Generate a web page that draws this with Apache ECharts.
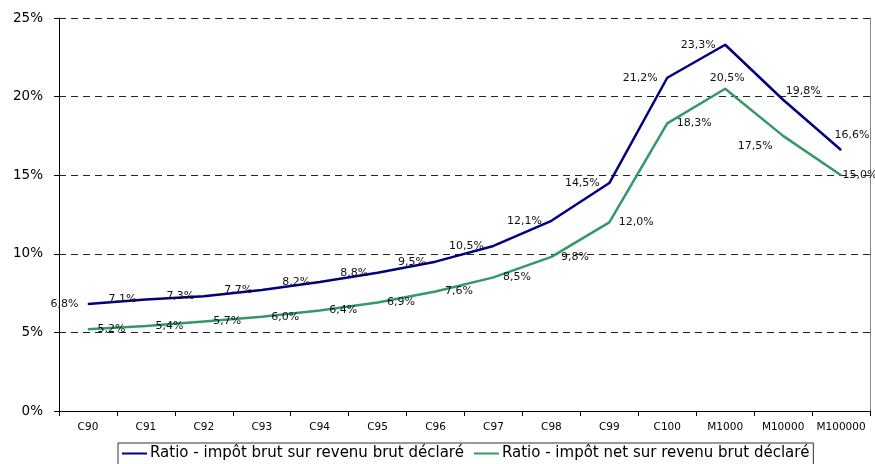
<!DOCTYPE html>
<html>
<head>
<meta charset="utf-8">
<script src="https://cdn.jsdelivr.net/npm/echarts@6/dist/echarts.min.js"></script>
<style>
html,body{margin:0;padding:0;background:#fff;}
#chart{width:875px;height:464px;}
</style>
</head>
<body>
<div id="chart"></div>
<script>
// ---- data ----
var categories = ['C90','C91','C92','C93','C94','C95','C96','C97','C98','C99','C100','M1000','M10000','M100000'];
var ratioBrut = [6.8, 7.1, 7.3, 7.7, 8.2, 8.8, 9.5, 10.5, 12.1, 14.5, 21.2, 23.3, 19.8, 16.6];
var ratioNet  = [5.2, 5.4, 5.7, 6.0, 6.4, 6.9, 7.6, 8.5, 9.8, 12.0, 18.3, 20.5, 17.5, 15.0];
var seriesNames = ['Ratio - impôt brut sur revenu brut déclaré', 'Ratio - impôt net sur revenu brut déclaré'];
var yTicks = [0, 5, 10, 15, 20, 25];

// ---- label placement (style only) ----
var brutLabelOverrides = {
  12: {position: 'top', distance: 3, offset: [20, 0]},
  13: {position: 'top', distance: 9, offset: [11, 0]}
};
var netLabelOverrides = {
  11: {position: 'top', distance: 5, offset: [2, 0]},
  12: {position: 'left', distance: 10, offset: [0, 10]},
  13: {position: 'right', distance: 1, offset: [0, 0]}
};

var FONT = 'DejaVu Sans';
function fmt(v){ return v.toFixed(1).replace('.', ',') + '%'; }

function buildData(values, overrides){
  return values.map(function(v, i){
    var item = {value: v};
    if (overrides[i]) item.label = overrides[i];
    return item;
  });
}

var chart = echarts.init(document.getElementById('chart'), null, {renderer: 'canvas'});
chart.setOption({
  animation: false,
  backgroundColor: '#ffffff',
  grid: {left: 59, right: 5, top: 18, bottom: 53},
  legend: {
    left: 118,
    top: 443,
    itemWidth: 25,
    itemHeight: 2,
    itemGap: 10,
    padding: [3, 4, 6, 4],
    borderColor: '#333',
    borderWidth: 1,
    icon: 'rect',
    textStyle: {fontFamily: FONT, fontSize: 15, color: '#000', padding: [0,0,0,-2]},
    data: seriesNames
  },
  xAxis: {
    type: 'category',
    data: categories,
    boundaryGap: true,
    axisLine: {lineStyle: {color: '#000', width: 1}},
    axisTick: {show: true, length: 5, lineStyle: {color: '#000'}},
    axisLabel: {fontFamily: FONT, fontSize: 10.5, color: '#000', margin: 11, interval: 0},
    splitLine: {show: false}
  },
  yAxis: [{
    type: 'value',
    min: yTicks[0],
    max: yTicks[yTicks.length - 1],
    interval: 5,
    axisLine: {show: true, lineStyle: {color: '#000', width: 1}},
    axisTick: {show: true, length: 5, lineStyle: {color: '#000'}},
    axisLabel: {fontFamily: FONT, fontSize: 13.5, color: '#000', margin: 16, formatter: function(v){ return v + '%'; }},
    splitLine: {show: true, lineStyle: {color: '#222', type: [7, 5], width: 1}}
  }, {
    type: 'value',
    position: 'right',
    min: yTicks[0],
    max: yTicks[yTicks.length - 1],
    interval: 5,
    axisLine: {show: true, lineStyle: {color: '#888', width: 1}},
    axisTick: {show: false},
    axisLabel: {show: false},
    splitLine: {show: false}
  }],
  series: [{
    name: seriesNames[0],
    type: 'line',
    data: buildData(ratioBrut, brutLabelOverrides),
    showSymbol: true,
    showAllSymbol: true,
    symbol: 'circle',
    symbolSize: 1,
    itemStyle: {color: '#000080'},
    lineStyle: {color: '#000080', width: 2.5},
    label: {
      show: true, position: 'left', distance: 9,
      fontFamily: FONT, fontSize: 11, color: '#111',
      formatter: function(p){ return fmt(p.value); }
    },
    z: 3
  }, {
    name: seriesNames[1],
    type: 'line',
    data: buildData(ratioNet, netLabelOverrides),
    showSymbol: true,
    showAllSymbol: true,
    symbol: 'circle',
    symbolSize: 1,
    itemStyle: {color: '#339966'},
    lineStyle: {color: '#339966', width: 2.5},
    label: {
      show: true, position: 'right', distance: 9,
      fontFamily: FONT, fontSize: 11, color: '#111',
      formatter: function(p){ return fmt(p.value); }
    },
    z: 2
  }]
});
</script>
</body>
</html>
